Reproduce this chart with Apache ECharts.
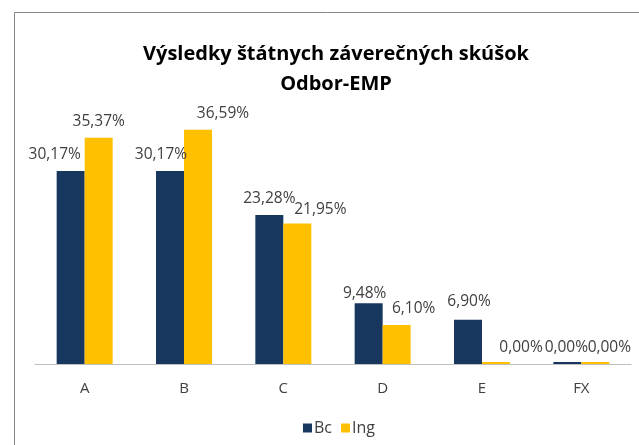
<!DOCTYPE html>
<html>
<head>
<meta charset="utf-8">
<script src="https://cdn.jsdelivr.net/npm/echarts@6/dist/echarts.min.js"></script>
<style>
  html, body { margin: 0; padding: 0; background: #fff; }
  #chart { width: 639px; height: 445px; }
</style>
</head>
<body>
<div id="chart"></div>
<script>
const categories = ['A', 'B', 'C', 'D', 'E', 'FX'];
const bcValues = [30.17, 30.17, 23.28, 9.48, 6.90, 0.00];
const ingValues = [35.37, 36.59, 21.95, 6.10, 0.00, 0.00];

// posuny popisov ako v originale (Excel ich rozsunul, aby sa neprekryvali)
const bcLabelShift = [[-16, 0], [-9, 0], [0, 0], [-4, 6], [1, -2], [-1, 2]];
const ingLabelShift = [[0, 0], [25, 0], [23, 2], [17, 0], [25, 2], [14, 2]];

const fmt = v => v.toFixed(2).replace('.', ',') + '%';

const makeData = (values, shifts) => values.map((v, i) => ({
    value: v,
    label: {offset: shifts[i]}
}));

const labelStyle = {
    show: true,
    position: 'top',
    distance: 8,
    fontFamily: 'Open Sans',
    fontSize: 15.5,
    color: '#404040',
    formatter: p => fmt(p.value)
};

const chart = echarts.init(document.getElementById('chart'));
chart.setOption({
    animation: false,
    backgroundColor: '#fff',
    graphic: [{
        type: 'rect',
        shape: {x: 14.5, y: 12.5, width: 700, height: 500},
        style: {fill: 'none', stroke: '#868686', lineWidth: 1},
        silent: true
    }],
    title: {
        text: 'Výsledky štátnych záverečných skúšok\nOdbor-EMP',
        left: 331,
        textAlign: 'center',
        top: 34,
        textStyle: {
            fontFamily: 'Open Sans',
            fontWeight: 'bold',
            fontSize: 20,
            lineHeight: 30,
            color: '#000'
        }
    },
    legend: {
        data: ['Bc', 'Ing'],
        left: 298,
        top: 415,
        itemWidth: 9,
        itemHeight: 9,
        itemGap: 9,
        icon: 'rect',
        textStyle: {fontFamily: 'Open Sans', fontSize: 16, color: '#404040', padding: [0, 0, 0, -3]}
    },
    grid: {left: 35, right: 8, top: 108, bottom: 81, containLabel: false},
    xAxis: {
        type: 'category',
        data: categories,
        axisLine: {lineStyle: {color: '#bfbfbf', width: 1}},
        axisTick: {show: false},
        axisLabel: {fontFamily: 'Open Sans', fontSize: 15, color: '#404040', margin: 17}
    },
    yAxis: {
        type: 'value',
        min: 0,
        max: 40,
        show: false,
        splitLine: {show: false}
    },
    series: [
        {
            name: 'Bc',
            type: 'bar',
            data: makeData(bcValues, bcLabelShift),
            barWidth: 28,
            barGap: '0%',
            barMinHeight: 2,
            itemStyle: {color: '#17375E'},
            label: labelStyle
        },
        {
            name: 'Ing',
            type: 'bar',
            data: makeData(ingValues, ingLabelShift),
            barWidth: 28,
            barGap: '0%',
            barMinHeight: 2,
            itemStyle: {color: '#FFC000'},
            label: labelStyle
        }
    ]
});
</script>
</body>
</html>
